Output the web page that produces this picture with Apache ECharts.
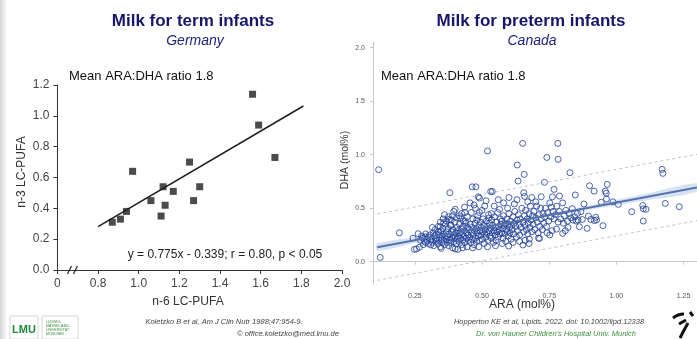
<!DOCTYPE html>
<html>
<head>
<meta charset="utf-8">
<script src="https://cdn.jsdelivr.net/npm/echarts@6/dist/echarts.min.js"></script>
<style>
  html, body { margin: 0; padding: 0; background: #ffffff; }
  #chart { width: 697px; height: 339px; }
</style>
</head>
<body>
<div id="chart"></div>
<script>
// ---- Milk for term infants (Germany): n-6 vs n-3 LC-PUFA ----
const termN6 = [0.87, 0.91, 0.94, 0.97, 1.06, 1.11, 1.12, 1.13, 1.17, 1.25, 1.27, 1.30, 1.56, 1.59, 1.67];
const termN3 = [0.31, 0.33, 0.38, 0.64, 0.45, 0.35, 0.54, 0.42, 0.51, 0.70, 0.45, 0.54, 1.14, 0.94, 0.73];
const termFitSlope = 0.775;
const termFitIntercept = -0.339;
const termFitRange = [0.8, 1.81];
const termXTicks = [0.6, 0.8, 1.0, 1.2, 1.4, 1.6, 1.8, 2.0];   // 0.6 is shown as "0" (broken axis)
const termYTicks = [0, 0.2, 0.4, 0.6, 0.8, 1.0, 1.2];

// ---- Milk for preterm infants (Canada): ARA vs DHA (mol%) ----
const pretermPoints = [
  // sparse / outlying samples
  [0.115,0.86],[0.121,0.04],[0.192,0.27],[0.243,0.22],[0.248,0.115],[0.256,0.12],[0.267,0.135],[0.262,0.262],
  [0.281,0.16],[0.29,0.18],[0.288,0.233],[0.309,0.157],[0.315,0.32],[0.30,0.23],[0.327,0.21],[0.338,0.28],
  [0.348,0.125],[0.344,0.327],[0.357,0.365],[0.368,0.38],[0.378,0.396],[0.38,0.645],[0.384,0.34],[0.40,0.49],
  [0.405,0.41],[0.41,0.115],[0.415,0.43],[0.424,0.45],[0.43,0.38],[0.436,0.46],[0.463,0.70],[0.477,0.70],
  [0.486,0.607],[0.49,0.595],[0.52,1.035],[0.532,0.656],[0.538,0.656],[0.631,0.904],[0.634,0.754],[0.651,1.106],
  [0.657,0.816],[0.655,0.645],[0.658,0.61],[0.72,0.607],[0.732,0.742],[0.741,0.975],[0.762,0.607],[0.768,0.676],
  [0.782,1.106],[0.783,0.957],[0.788,0.614],[0.827,0.832],[0.847,0.624],[0.836,0.496],[0.855,0.452],[0.803,0.36],
  [0.777,0.305],[0.80,0.265],[0.752,0.25],[0.714,0.218],[0.676,0.212],[0.652,0.156],[0.599,0.147],[0.488,0.14],
  [0.90,0.71],[0.966,0.723],[0.917,0.66],[0.959,0.66],[0.962,0.64],[0.963,0.586],[0.879,0.54],[0.944,0.555],
  [0.987,0.56],[1.007,0.536],[0.868,0.468],[0.896,0.427],[0.873,0.395],[0.905,0.395],[0.923,0.415],[0.926,0.39],
  [0.918,0.385],[0.862,0.327],[0.891,0.312],[0.95,0.337],[1.057,0.468],[1.098,0.525],[1.10,0.495],[1.11,0.49],
  [1.10,0.38],[1.17,0.863],[1.173,0.826],[1.182,0.545],[1.234,0.514],
  // main cloud
  [0.27,0.2],[0.275,0.24],[0.28,0.22],[0.285,0.19],[0.29,0.26],[0.295,0.2],[0.30,0.17],[0.305,0.25],
  [0.31,0.21],[0.315,0.18],[0.318,0.27],[0.32,0.15],[0.322,0.24],[0.325,0.3],[0.328,0.19],[0.33,0.26],
  [0.332,0.22],[0.335,0.17],[0.337,0.33],[0.34,0.2],[0.342,0.25],[0.345,0.14],[0.347,0.29],[0.35,0.22],
  [0.352,0.18],[0.354,0.31],[0.356,0.26],[0.358,0.2],[0.36,0.16],[0.362,0.24],[0.364,0.35],[0.366,0.21],
  [0.368,0.28],[0.37,0.18],[0.355,0.4],[0.36,0.44],[0.345,0.37],
  [0.372,0.23],[0.374,0.31],[0.376,0.15],[0.378,0.26],[0.38,0.2],[0.382,0.34],[0.384,0.18],[0.386,0.28],
  [0.388,0.22],[0.39,0.13],[0.392,0.3],[0.394,0.25],[0.396,0.19],[0.398,0.37],[0.40,0.23],[0.402,0.27],
  [0.404,0.17],[0.406,0.32],[0.408,0.21],[0.41,0.29],[0.39,0.43],[0.385,0.39],[0.395,0.47],[0.40,0.12],[0.375,0.42],
  [0.412,0.24],[0.414,0.19],[0.416,0.35],[0.418,0.27],[0.42,0.22],[0.422,0.31],[0.424,0.16],[0.426,0.26],
  [0.428,0.2],[0.43,0.33],[0.432,0.24],[0.434,0.29],[0.436,0.18],[0.438,0.38],[0.44,0.22],[0.442,0.27],
  [0.444,0.14],[0.446,0.32],[0.448,0.25],[0.45,0.2],[0.42,0.41],[0.435,0.51],[0.445,0.42],[0.428,0.13],[0.44,0.36],
  [0.452,0.3],[0.454,0.23],[0.456,0.35],[0.458,0.18],[0.46,0.27],[0.462,0.32],[0.464,0.21],[0.466,0.4],
  [0.468,0.25],[0.47,0.16],[0.472,0.29],[0.474,0.36],[0.476,0.22],[0.478,0.31],[0.48,0.19],[0.482,0.27],
  [0.484,0.43],[0.486,0.24],[0.488,0.34],[0.49,0.2],[0.46,0.46],[0.47,0.53],[0.475,0.5],[0.465,0.13],
  [0.48,0.39],[0.455,0.55],[0.49,0.46],
  [0.492,0.29],[0.494,0.37],[0.496,0.25],[0.498,0.32],[0.50,0.21],[0.502,0.28],[0.504,0.4],[0.506,0.34],
  [0.508,0.17],[0.51,0.26],[0.512,0.3],[0.514,0.23],[0.516,0.38],[0.518,0.27],[0.52,0.33],[0.522,0.2],
  [0.524,0.44],[0.526,0.29],[0.528,0.36],[0.53,0.24],[0.50,0.48],[0.515,0.57],[0.52,0.14],[0.51,0.52],[0.525,0.41],
  [0.532,0.31],[0.534,0.22],[0.536,0.39],[0.538,0.27],[0.54,0.34],[0.542,0.18],[0.544,0.29],[0.546,0.42],
  [0.548,0.25],[0.55,0.32],[0.552,0.2],[0.554,0.37],[0.556,0.28],[0.558,0.46],[0.56,0.23],[0.562,0.33],
  [0.564,0.3],[0.566,0.26],[0.568,0.4],[0.57,0.35],[0.545,0.52],[0.56,0.58],[0.55,0.15],[0.565,0.49],[0.535,0.45],
  [0.572,0.27],[0.574,0.38],[0.576,0.31],[0.578,0.22],[0.58,0.43],[0.582,0.34],[0.584,0.26],[0.586,0.36],
  [0.588,0.19],[0.59,0.3],[0.592,0.4],[0.594,0.28],[0.596,0.35],[0.598,0.24],[0.60,0.45],[0.602,0.32],
  [0.604,0.27],[0.606,0.38],[0.608,0.21],[0.61,0.34],[0.58,0.55],[0.595,0.5],[0.575,0.17],[0.60,0.6],
  [0.612,0.3],[0.615,0.42],[0.618,0.26],[0.62,0.36],[0.622,0.47],[0.625,0.33],[0.628,0.23],[0.63,0.39],
  [0.632,0.29],[0.635,0.44],[0.638,0.35],[0.64,0.25],[0.642,0.4],[0.645,0.32],[0.648,0.5],[0.62,0.54],
  [0.615,0.18],[0.64,0.19],[0.63,0.58],
  [0.652,0.37],[0.655,0.28],[0.658,0.43],[0.66,0.34],[0.662,0.48],[0.665,0.3],[0.668,0.4],[0.67,0.26],
  [0.672,0.36],[0.675,0.45],[0.678,0.32],[0.68,0.52],[0.682,0.39],[0.685,0.28],[0.688,0.43],[0.67,0.56],
  [0.66,0.2],[0.685,0.6],[0.675,0.17],
  [0.69,0.35],[0.693,0.47],[0.696,0.3],[0.70,0.41],[0.703,0.52],[0.706,0.37],[0.709,0.27],[0.712,0.44],
  [0.715,0.33],[0.718,0.5],[0.72,0.4],[0.724,0.3],[0.727,0.45],[0.73,0.36],[0.70,0.56],[0.71,0.22],
  [0.733,0.42],[0.736,0.5],[0.74,0.33],[0.744,0.46],[0.748,0.38],[0.752,0.55],[0.756,0.42],[0.76,0.29],
  [0.764,0.47],[0.768,0.4],[0.742,0.27],[0.758,0.51],
  [0.773,0.44],[0.778,0.52],[0.783,0.37],[0.788,0.47],[0.793,0.4],[0.80,0.55],[0.806,0.43],[0.812,0.48],
  [0.818,0.38],[0.824,0.45],[0.83,0.41],[0.838,0.39],[0.845,0.42],[0.85,0.38],[0.857,0.39],[0.82,0.32],[0.81,0.29]
];
// regression line, 95% prediction limits and confidence band
const pretermFitX = [0.11, 1.30];
const pretermFitY = [0.136, 0.694];
const pretermUpperPI = [0.446, 1.004];
const pretermLowerPI = [-0.174, 0.384];
const bandX    = [0.11, 0.30, 0.50, 0.70, 0.90, 1.10, 1.30];
const bandLow  = [0.100, 0.205, 0.307, 0.400, 0.486, 0.570, 0.654];
const bandHigh = [0.170, 0.245, 0.331, 0.424, 0.526, 0.630, 0.734];
const pretermXTicks = [0.25, 0.50, 0.75, 1.00, 1.25];
const pretermYTicks = [0.0, 0.5, 1.0, 1.5, 2.0];

const FONT = '"Liberation Sans", Arial, sans-serif';
const NAVY = '#15166b';
const DOT_BLUE = '#1f3f98';

const chart = echarts.init(document.getElementById('chart'), null, { renderer: 'canvas' });

function txt(x, y, text, o) {
  o = o || {};
  return {
    type: 'text', x: x, y: y, rotation: o.rotation || 0, silent: true, z: 10,
    style: {
      text: text, fontFamily: FONT, fontSize: o.size || 12,
      fontWeight: o.weight || 'normal', fontStyle: o.italic ? 'italic' : 'normal',
      fill: o.color || '#222', align: o.align || 'center', verticalAlign: 'middle'
    }
  };
}

const option = {
  backgroundColor: '#ffffff',
  animation: false,
  grid: [
    { left: 57.4, top: 85, width: 284.6, height: 185 },
    { left: 373, top: 42.4, width: 337.7, height: 241.8 }
  ],
  xAxis: [
    {
      gridIndex: 0, type: 'value', min: 0.6, max: 2.0, interval: 0.2,
      axisLine: { lineStyle: { color: '#333', width: 1 } },
      axisTick: { show: true, length: 4, lineStyle: { color: '#333' }, customValues: termXTicks },
      axisLabel: {
        color: '#444', fontFamily: FONT, fontSize: 12, margin: 8, customValues: termXTicks,
        formatter: v => (Math.abs(v - 0.6) < 1e-6 ? '0' : v.toFixed(1))
      },
      splitLine: { show: false }
    },
    {
      gridIndex: 1, type: 'value', min: 0.094, max: 1.30,
      axisLine: { lineStyle: { color: '#c8c8c8', width: 1 } },
      axisTick: { show: true, length: 3, lineStyle: { color: '#c8c8c8' }, customValues: pretermXTicks },
      axisLabel: {
        color: '#555', fontFamily: FONT, fontSize: 7, margin: 8, customValues: pretermXTicks,
        formatter: v => v.toFixed(2)
      },
      splitLine: { show: false }
    }
  ],
  yAxis: [
    {
      gridIndex: 0, type: 'value', min: 0, max: 1.2, interval: 0.2,
      axisLine: { show: true, lineStyle: { color: '#333', width: 1 } },
      axisTick: { show: true, length: 4, lineStyle: { color: '#333' }, customValues: termYTicks },
      axisLabel: {
        color: '#444', fontFamily: FONT, fontSize: 12, margin: 8, customValues: termYTicks,
        formatter: v => v.toFixed(1)
      },
      splitLine: { show: false }
    },
    {
      gridIndex: 1, type: 'value', min: -0.21, max: 2.05,
      axisLine: { show: true, lineStyle: { color: '#c8c8c8', width: 1 } },
      axisTick: { show: true, length: 3, lineStyle: { color: '#c8c8c8' }, customValues: pretermYTicks },
      axisLabel: {
        color: '#555', fontFamily: FONT, fontSize: 7, margin: 8, customValues: pretermYTicks,
        formatter: v => v.toFixed(1)
      },
      splitLine: { show: false }
    }
  ],
  series: [
    {
      type: 'scatter', xAxisIndex: 0, yAxisIndex: 0,
      symbol: 'rect', symbolSize: 7,
      itemStyle: { color: '#1e1e1e' },
      data: termN6.map((x, i) => [x, termN3[i]]),
      z: 3
    },
    {
      type: 'line', xAxisIndex: 0, yAxisIndex: 0,
      symbol: 'none', silent: true,
      lineStyle: { color: '#1e1e1e', width: 1.5 },
      data: termFitRange.map(x => [x, termFitSlope * x + termFitIntercept]),
      z: 2
    },
    {
      type: 'custom', xAxisIndex: 1, yAxisIndex: 1, silent: true, clip: true,
      data: [0],
      renderItem: function (params, api) {
        const pts = [];
        for (let i = 0; i < bandX.length; i++) pts.push(api.coord([bandX[i], bandHigh[i]]));
        for (let i = bandX.length - 1; i >= 0; i--) pts.push(api.coord([bandX[i], bandLow[i]]));
        return { type: 'polygon', shape: { points: pts, smooth: 0.3 }, style: { fill: 'rgba(110,150,210,0.28)' } };
      },
      z: 1
    },
    {
      type: 'line', xAxisIndex: 1, yAxisIndex: 1, symbol: 'none', silent: true,
      lineStyle: { color: '#bcc3d2', width: 1, type: [3, 3] },
      data: pretermFitX.map((x, i) => [x, pretermUpperPI[i]]), z: 1
    },
    {
      type: 'line', xAxisIndex: 1, yAxisIndex: 1, symbol: 'none', silent: true,
      lineStyle: { color: '#bcc3d2', width: 1, type: [3, 3] },
      data: pretermFitX.map((x, i) => [x, pretermLowerPI[i]]), z: 1
    },
    {
      type: 'scatter', xAxisIndex: 1, yAxisIndex: 1,
      symbol: 'circle', symbolSize: 6,
      itemStyle: { color: 'rgba(255,255,255,0)', borderColor: DOT_BLUE, borderWidth: 1 },
      data: pretermPoints, z: 3
    },
    {
      type: 'line', xAxisIndex: 1, yAxisIndex: 1, symbol: 'none', silent: true,
      lineStyle: { color: '#5473ad', width: 2 },
      data: pretermFitX.map((x, i) => [x, pretermFitY[i]]), z: 4
    }
  ],
  graphic: [
    // left edge shading
    {
      type: 'rect', shape: { x: 0, y: 0, width: 7, height: 339 }, silent: true,
      style: { fill: new echarts.graphic.LinearGradient(0, 0, 1, 0, [
        { offset: 0, color: '#d6d6d6' }, { offset: 0.6, color: '#ececec' }, { offset: 1, color: '#ffffff' }
      ]) }
    },
    // headings
    txt(193, 21, 'Milk for term infants', { size: 17, weight: 'bold', color: NAVY }),
    txt(195, 41, 'Germany', { size: 14, italic: true, color: '#22227a' }),
    txt(531, 21, 'Milk for preterm infants', { size: 17, weight: 'bold', color: NAVY }),
    txt(532, 41, 'Canada', { size: 14, italic: true, color: '#22227a' }),
    // annotations
    txt(69, 76, 'Mean ARA:DHA ratio 1.8', { size: 13, align: 'left', color: '#111' }),
    txt(381, 76, 'Mean ARA:DHA ratio 1.8', { size: 13, align: 'left', color: '#111' }),
    txt(225, 255, 'y = 0.775x - 0.339; r = 0.80, p < 0.05', { size: 12, color: '#222' }),
    // axis titles
    txt(22, 172, 'n-3 LC-PUFA', { size: 12, rotation: Math.PI / 2, color: '#333' }),
    txt(188, 302, 'n-6 LC-PUFA', { size: 12, color: '#333' }),
    txt(345, 160, 'DHA (mol%)', { size: 10.5, rotation: Math.PI / 2, color: '#333' }),
    txt(522, 305, 'ARA (mol%)', { size: 12, color: '#333' }),
    // references
    txt(224, 322, 'Koletzko B et al, Am J Clin Nutr 1988;47:954-9.', { size: 7.5, italic: true, color: '#444' }),
    txt(288, 334, '\u00a9 office.koletzko@med.lmu.de', { size: 7.5, italic: true, color: '#444' }),
    txt(549, 322, 'Hopperton KE et al, Lipids. 2022. doi: 10.1002/lipd.12338', { size: 7.5, italic: true, color: '#444' }),
    txt(556, 334, "Dr. von Hauner Children's Hospital Univ. Munich", { size: 7.5, italic: true, color: '#3a8f3a' }),
    // university logo
    { type: 'rect', shape: { x: 10, y: 316, width: 28, height: 23 }, silent: true,
      style: { fill: '#fff', stroke: '#d8d8d8', lineWidth: 1 } },
    txt(24, 330, 'LMU', { size: 11, weight: 'bold', color: '#1f8a3c' }),
    { type: 'rect', shape: { x: 42, y: 316, width: 36, height: 23 }, silent: true,
      style: { fill: '#fff', stroke: '#d8d8d8', lineWidth: 1 } },
    txt(46, 322, 'LUDWIG-', { size: 3.5, align: 'left', color: '#3a8f3a' }),
    txt(46, 326, 'MAXIMILIANS-', { size: 3.5, align: 'left', color: '#3a8f3a' }),
    txt(46, 330, 'UNIVERSITÄT', { size: 3.5, align: 'left', color: '#3a8f3a' }),
    txt(46, 334, 'MÜNCHEN', { size: 3.5, align: 'left', color: '#3a8f3a' }),
    // hospital logo strokes
    { type: 'bezierCurve', silent: true, shape: { x1: 673, y1: 318, cpx1: 678, cpy1: 314, x2: 684, y2: 314 },
      style: { stroke: '#111', lineWidth: 3, fill: null } },
    { type: 'line', silent: true, shape: { x1: 679, y1: 324, x2: 686, y2: 320 }, style: { stroke: '#111', lineWidth: 3 } },
    { type: 'line', silent: true, shape: { x1: 690, y1: 312, x2: 693, y2: 316 }, style: { stroke: '#111', lineWidth: 3 } },
    { type: 'bezierCurve', silent: true, shape: { x1: 688, y1: 323, cpx1: 684, cpy1: 330, x2: 680, y2: 338 },
      style: { stroke: '#111', lineWidth: 3, fill: null } }
  ]
};

chart.setOption(option);

// axis break marks on the term-infant x axis
const brk = chart.convertToPixel({ gridIndex: 0 }, [0.674, 0]);
chart.setOption({
  graphic: option.graphic.concat([
    { type: 'line', silent: true, z: 20, shape: { x1: brk[0] - 5, y1: brk[1] + 4, x2: brk[0] - 1, y2: brk[1] - 4 }, style: { stroke: '#222', lineWidth: 1.2 } },
    { type: 'line', silent: true, z: 20, shape: { x1: brk[0] + 1, y1: brk[1] + 4, x2: brk[0] + 5, y2: brk[1] - 4 }, style: { stroke: '#222', lineWidth: 1.2 } }
  ])
}, { replaceMerge: ['graphic'] });
</script>
</body>
</html>
